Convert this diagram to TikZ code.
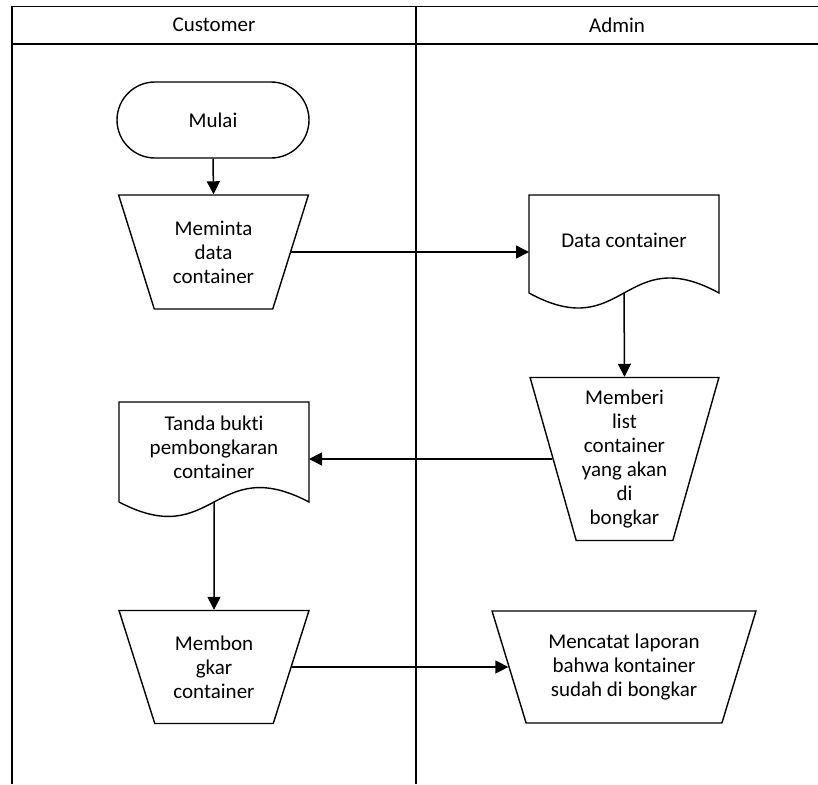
\documentclass[tikz,border=0pt]{standalone}
\usepackage{fontspec}
\setmainfont[Ligatures=NoCommon]{Carlito}
\usetikzlibrary{shapes.geometric,arrows.meta,calc}
\begin{document}
\begin{tikzpicture}[x=1pt,y=-1pt,
  every node/.style={font=\fontsize{21}{24}\selectfont, align=center, inner sep=0pt},
  lane/.style={line width=1.5pt},
  outline/.style={draw, line width=1.4pt},
  terminal/.style={outline, rectangle, rounded corners=38pt,
    minimum width=192pt, minimum height=76pt},
  manual/.style={outline, trapezium, shape border rotate=180,
    trapezium stretches=true},
  docbox/.style={rectangle, outer sep=0pt, minimum width=190pt},
  docline/.style={line width=1.4pt},
  flow/.style={line width=1.5pt, -{Triangle[length=13pt,width=13pt]}}
]
\useasboundingbox (0,0) rectangle (818,784);

% swimlane frame
\draw[lane] (12,784) -- (12,6.5) -- (818,6.5);
\draw[lane] (12,44) -- (818,44);
\draw[lane] (416,6.5) -- (416,784);
\node (cust) at (214,25) {Customer};
\node (adm) at (617,25) {Admin};

% Customer lane
\node[terminal] (mulai) at (213,120) {Mulai};
\node[manual, trapezium left angle=68.7, trapezium right angle=68.7,
  minimum width=190pt, minimum height=114pt] (meminta) at (213.5,252)
  {Meminta\\data\\container};
\node[docbox, minimum height=100pt] (tanda) at (214,452)
  {Tanda bukti\\pembongkaran\\container\\[-14pt]\mbox{}};
\draw[docline] (tanda.south west) -- (tanda.north west) -- (tanda.north east)
  -- (tanda.south east) .. controls ($(tanda.south)+(0,-50)$) and ($(tanda.south)+(0,50)$)
  .. (tanda.south west);
\node[manual, trapezium left angle=68.7, trapezium right angle=68.7,
  minimum width=190pt, minimum height=113pt] (bongkar) at (214,667)
  {Membon\\gkar\\container};

% Admin lane
\node[docbox, minimum height=98pt] (dc) at (624,244)
  {Data container\\[-16pt]\mbox{}};
\draw[docline] (dc.south west) -- (dc.north west) -- (dc.north east)
  -- (dc.south east) .. controls ($(dc.south)+(0,-52)$) and ($(dc.south)+(0,52)$)
  .. (dc.south west);
\node[manual, trapezium left angle=73.6, trapezium right angle=73.6,
  minimum width=189pt, minimum height=163pt] (memberi) at (624.5,459)
  {Memberi\\list\\container\\yang akan\\di\\bongkar};
\node[manual, trapezium left angle=68.3, trapezium right angle=68.3,
  minimum width=264pt, minimum height=112pt] (catat) at (624,667)
  {Mencatat laporan\\bahwa kontainer\\sudah di bongkar};

% connectors
\draw[flow] (mulai.south) -- (meminta.north);
\draw[flow] (meminta.east) -- (meminta.east -| dc.west);
\draw[flow] (dc.south) -- (memberi.north);
\draw[flow] (memberi.west) -- (memberi.west -| tanda.east);
\draw[flow] (tanda.south) -- (bongkar.north);
\draw[flow] (bongkar.east) -- (bongkar.east -| catat.west);
\end{tikzpicture}
\end{document}
